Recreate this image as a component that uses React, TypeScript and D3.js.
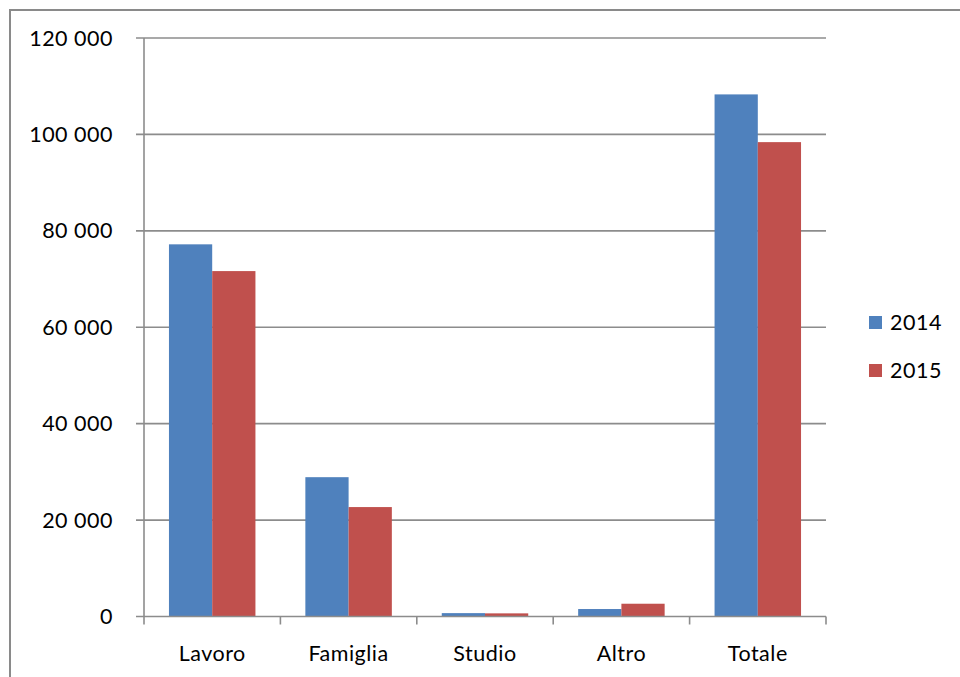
import * as d3 from 'd3';
import React, { useEffect, useRef } from 'react';

const categories = ['Lavoro', 'Famiglia', 'Studio', 'Altro', 'Totale'];
const seriesNames = ['2014', '2015'];
const values2014 = [77200, 28900, 700, 1550, 108300];
const values2015 = [71650, 22700, 650, 2650, 98400];
const yTicks = [0, 20000, 40000, 60000, 80000, 100000, 120000];
const colors = ['#4f81bd', '#c0504d'];

const App = () => {
  const ref = useRef<SVGSVGElement>(null);

  useEffect(() => {
    const svg = d3.select(ref.current);
    svg.selectAll('*').remove();

    const W = 960;
    const H = 677;
    const margin = { top: 38, left: 144, right: 134, bottom: 60 };
    const plotW = W - margin.left - margin.right;
    const plotH = 616.5 - margin.top;
    const font = 'Lato, "Open Sans", sans-serif';
    const fs = 21.5;
    const ls = '0.5px';

    // outer chart border (only top/left visible in the crop)
    svg
      .append('rect')
      .attr('x', 10)
      .attr('y', 10)
      .attr('width', W + 20)
      .attr('height', H + 20)
      .attr('fill', '#fff')
      .attr('stroke', '#8a8a8a')
      .attr('stroke-width', 2);

    const g = svg.append('g').attr('transform', `translate(${margin.left},${margin.top})`);

    const x = d3.scaleBand().domain(categories).range([0, plotW]).padding(0);
    const y = d3.scaleLinear().domain([0, 120000]).range([plotH, 0]);
    const inner = d3
      .scaleBand()
      .domain(seriesNames)
      .range([x.bandwidth() * 0.183, x.bandwidth() * 0.817])
      .padding(0);

    const fmt = (v: number) => d3.format(',')(v).replace(/,/g, ' ');

    // gridlines
    g.selectAll('.grid')
      .data(yTicks.filter(t => t > 0))
      .enter()
      .append('line')
      .attr('x1', -8)
      .attr('x2', plotW)
      .attr('y1', d => y(d))
      .attr('y2', d => y(d))
      .attr('stroke', '#8c8c8c')
      .attr('stroke-width', 1.6);

    // y labels
    g.selectAll('.ylab')
      .data(yTicks)
      .enter()
      .append('text')
      .attr('x', -31)
      .attr('y', d => y(d))
      .attr('dy', '0.35em')
      .attr('text-anchor', 'end')
      .attr('font-family', font)
      .attr('font-size', fs)
      .attr('letter-spacing', ls)
      .attr('fill', '#000')
      .text(d => fmt(d));

    const data = [values2014, values2015];

    categories.forEach((c, i) => {
      seriesNames.forEach((s, j) => {
        const v = data[j][i];
        g.append('rect')
          .attr('x', (x(c) ?? 0) + (inner(s) ?? 0))
          .attr('y', y(v))
          .attr('width', inner.bandwidth())
          .attr('height', plotH - y(v))
          .attr('fill', colors[j]);
      });
    });

    // y axis line + baseline
    g.append('line')
      .attr('x1', 0)
      .attr('x2', 0)
      .attr('y1', 0)
      .attr('y2', plotH)
      .attr('stroke', '#8c8c8c')
      .attr('stroke-width', 1.6);
    g.append('line')
      .attr('x1', -8)
      .attr('x2', plotW)
      .attr('y1', plotH)
      .attr('y2', plotH)
      .attr('stroke', '#8c8c8c')
      .attr('stroke-width', 1.6);

    // category ticks
    const bounds = categories.map(c => x(c) ?? 0).concat([plotW]);
    g.selectAll('.xtick')
      .data(bounds)
      .enter()
      .append('line')
      .attr('x1', d => d)
      .attr('x2', d => d)
      .attr('y1', plotH)
      .attr('y2', plotH + 8)
      .attr('stroke', '#8c8c8c')
      .attr('stroke-width', 1.6);

    g.selectAll('.xlab')
      .data(categories)
      .enter()
      .append('text')
      .attr('x', d => (x(d) ?? 0) + x.bandwidth() / 2)
      .attr('y', plotH + 44)
      .attr('text-anchor', 'middle')
      .attr('font-family', font)
      .attr('font-size', fs)
      .attr('letter-spacing', ls)
      .attr('fill', '#000')
      .text(d => d);

    // legend
    const legend = svg.append('g').attr('transform', 'translate(869,316)');
    seriesNames.forEach((s, j) => {
      legend
        .append('rect')
        .attr('x', 0)
        .attr('y', j * 48)
        .attr('width', 13)
        .attr('height', 13)
        .attr('fill', colors[j]);
      legend
        .append('text')
        .attr('x', 21)
        .attr('y', j * 48 + 6.5)
        .attr('dy', '0.35em')
        .attr('font-family', font)
        .attr('font-size', fs)
        .attr('letter-spacing', ls)
        .attr('fill', '#000')
        .text(s);
    });
  }, []);

  return (
    <svg
      ref={ref}
      width={960}
      height={677}
      style={{ position: 'absolute', left: 0, top: 0, background: '#fff' }}
    />
  );
};

export default App;
